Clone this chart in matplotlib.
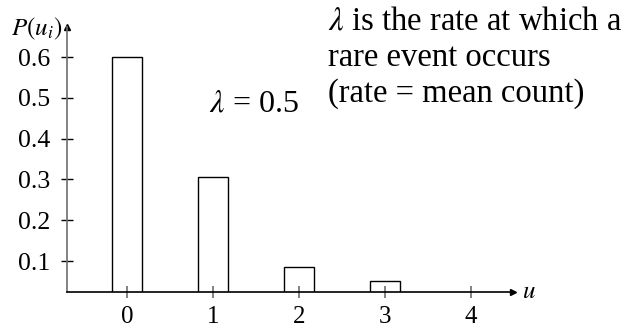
import numpy as np
import matplotlib
matplotlib.use("Agg")
import matplotlib.pyplot as plt

plt.rcParams['font.family'] = ['Liberation Serif', 'DejaVu Serif']
plt.rcParams['mathtext.fontset'] = 'stix'

# data
u_vals = [0, 1, 2, 3]
p_vals = [0.6, 0.305, 0.085, 0.051]
x_ticks = [0, 1, 2, 3, 4]
y_ticks = [0.1, 0.2, 0.3, 0.4, 0.5, 0.6]

fig = plt.figure(figsize=(6.29, 3.29), dpi=100)
ax = fig.add_axes([0.1065, 0.1115, 0.709, 0.806])

ax.bar(u_vals, p_vals, width=0.35, facecolor='white', edgecolor='black', linewidth=1.0)

ax.set_xlim(-0.698, 4.49)
ax.set_ylim(0.0233, 0.6735)
ax.set_xticks(x_ticks)
ax.set_yticks(y_ticks)
ax.set_yticklabels([f"{v:.1f}" for v in y_ticks])

for s in ['top', 'right']:
    ax.spines[s].set_visible(False)
ax.spines['left'].set_color('#6e6e6e')
ax.spines['left'].set_linewidth(1.2)
ax.spines['bottom'].set_color('black')
ax.spines['bottom'].set_linewidth(1.2)

ax.tick_params(axis='y', direction='inout', length=8.4, width=1, color='black',
               labelsize=18.5, pad=8)
ax.tick_params(axis='x', direction='inout', length=8.4, width=1.2, color='#6e6e6e',
               labelsize=18, pad=6)

# arrow heads on the axes
ax.plot(1, 0.0233, '>k', markersize=4, transform=ax.get_yaxis_transform(), clip_on=False)
ax.plot(0, 1, '^k', markersize=4, transform=ax.transAxes, clip_on=False)

fig.text(0.830, 0.112, r'$u$', fontsize=18, va='center', ha='left')
fig.text(0.018, 0.912, r'$P(u_i)$', fontsize=18, va='center', ha='left')
fig.text(0.404, 0.684, r'$\lambda$ = 0.5', fontsize=23, va='center', ha='center')
fig.text(0.522, 0.982, r'$\lambda$ is the rate at which a' + '\nrare event occurs\n(rate = mean count)',
         fontsize=23.5, va='top', ha='left', linespacing=1.24)

fig.savefig('out.png', dpi=100)
